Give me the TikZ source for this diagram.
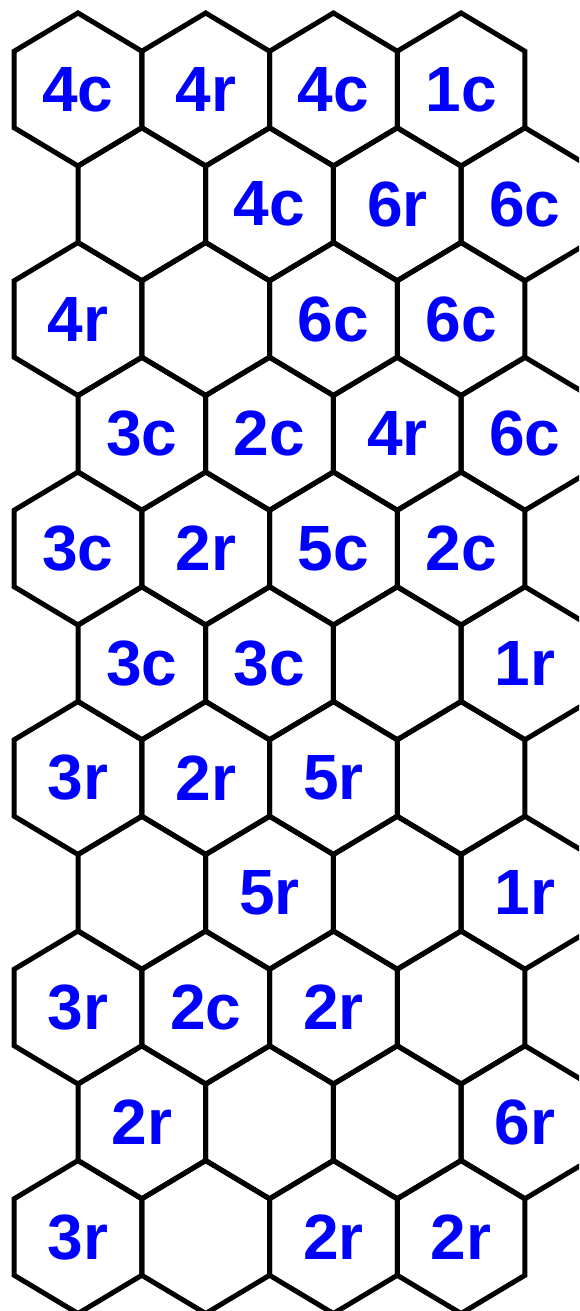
\documentclass[tikz,border=0pt]{standalone}
\usepackage{fontspec}
\setmainfont{Liberation Sans}
\usepackage{tikz}
\definecolor{cellblue}{HTML}{0000FF}

\begin{document}
\begin{tikzpicture}[x=1pt, y=-1pt,
    hexline/.style={draw=black, line width=5pt, line join=miter},
    cellnum/.style={font=\fontsize{64}{64}\selectfont\bfseries, text=cellblue, inner sep=0pt}
]
\useasboundingbox (0,0) rectangle (579,1311);
\clip (0,0) rectangle (579,1311);

% --- cells: row / labels from left to right ---
\foreach \row/\labels in {
    0/{4c,4r,4c,1c}, 1/{{},4c,6r,6c}, 2/{4r,{},6c,6c}, 3/{3c,2c,4r,6c},
    4/{3c,2r,5c,2c}, 5/{3c,3c,{},1r}, 6/{3r,2r,5r,{}}, 7/{{},5r,{},1r},
    8/{3r,2c,2r,{}}, 9/{2r,{},{},6r}, 10/{3r,{},2r,2r}}
{
  \foreach \lab [count=\col from 0] in \labels {
    \pgfmathsetmacro{\cx}{78 + 127.7*\col + 63.85*mod(\row,2)}
    \pgfmathsetmacro{\cy}{89.5 + 114.75*\row}
    \node[cellnum] (cell-\row-\col) at (\cx,\cy) {\lab};
    \draw[hexline] (cell-\row-\col.center) +(-63.85,-38.25) -- +(0,-76.5) -- +(63.85,-38.25)
      -- +(63.85,38.25) -- +(0,76.5) -- +(-63.85,38.25) -- cycle;
  }
}
\end{tikzpicture}
\end{document}
